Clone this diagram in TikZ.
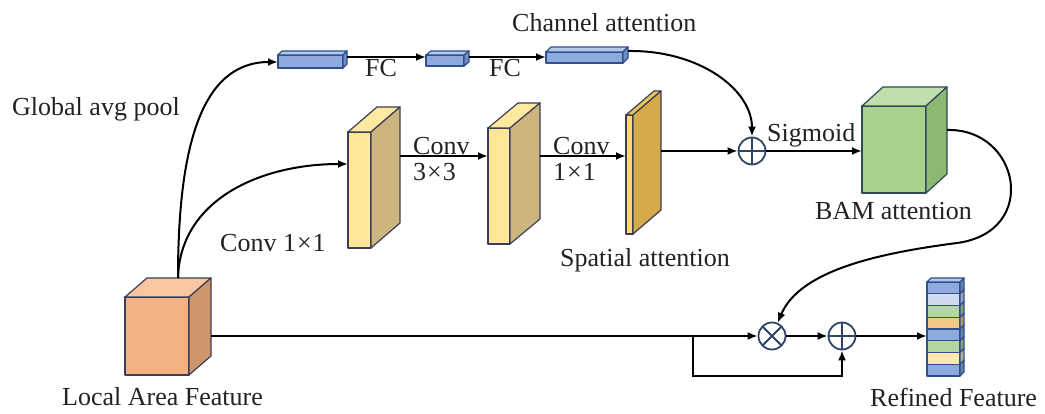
\documentclass[tikz,border=0pt]{standalone}
\usepackage{fontspec}
\setmainfont{Liberation Serif}
\usetikzlibrary{arrows.meta,calc}
\definecolor{lfF}{HTML}{F4B183}\definecolor{lfS}{HTML}{CF956E}\definecolor{lfT}{HTML}{F8C7A2}\definecolor{lfE}{HTML}{3A3F55}
\definecolor{bmF}{HTML}{A9D18E}\definecolor{bmS}{HTML}{8DB873}\definecolor{bmT}{HTML}{C2DEAC}\definecolor{bmE}{HTML}{2F4A55}
\definecolor{cvF}{HTML}{FFE699}\definecolor{cvS}{HTML}{CDB57F}\definecolor{cvT}{HTML}{FFE8A0}\definecolor{cvE}{HTML}{3A3F55}
\definecolor{caF}{HTML}{FFD966}\definecolor{caS}{HTML}{D4AA4A}\definecolor{caT}{HTML}{EBC75A}\definecolor{caE}{HTML}{3A3F55}
\definecolor{brF}{HTML}{8FAADC}\definecolor{brS}{HTML}{6E8CC6}\definecolor{brT}{HTML}{B4C7E7}\definecolor{brE}{HTML}{2F4F8F}
\definecolor{sA}{HTML}{8FAADC}\definecolor{sB}{HTML}{D0DAF0}\definecolor{sC}{HTML}{B5D6A0}
\definecolor{sD}{HTML}{F2C886}\definecolor{sE}{HTML}{FFE8B0}
\definecolor{ocol}{HTML}{2E4565}
\definecolor{txt}{HTML}{222222}
\newcommand\cubeblk[5]{%
  \coordinate (#1-tl) at (#2);
  \coordinate (#1-br) at (#3);
  \coordinate (#1-tr) at (#1-br |- #1-tl);
  \filldraw[face, draw=#5E, fill=#5F] (#1-tl) rectangle (#1-br);
  \filldraw[face, draw=#5E, fill=#5T] (#1-tl) -- ++(#4) -- ($(#1-tr)+(#4)$) -- (#1-tr) -- cycle;
  \filldraw[face, draw=#5E, fill=#5S] (#1-tr) -- ($(#1-tr)+(#4)$) -- ($(#1-br)+(#4)$) -- (#1-br) -- cycle;
}
\begin{document}
\begin{tikzpicture}[x=1pt,y=-1pt,
  lbl/.style={font=\fontsize{26}{26}\selectfont, inner sep=0pt, text=txt},
  arr/.style={line width=2pt, -{Latex[length=10pt,width=8pt]}},
  opnode/.style={circle, draw=ocol, line width=1.8pt, minimum size=27pt, inner sep=0pt, fill=white},
  oplus/.style={opnode, path picture={\draw[ocol,line width=1.8pt] (path picture bounding box.north)--(path picture bounding box.south) (path picture bounding box.west)--(path picture bounding box.east);}},
  otimes/.style={opnode, path picture={\draw[ocol,line width=1.8pt] (path picture bounding box.north west)--(path picture bounding box.south east) (path picture bounding box.north east)--(path picture bounding box.south west);}},
  face/.style={line width=1.2pt, line join=round}]
\fill[white] (0,0) rectangle (1045,414);
\useasboundingbox (0,0) rectangle (1045,414);

% blocks
\cubeblk{lf}{125,297}{189,375}{22,-19}{lf}
\cubeblk{bam}{862,106}{926,193}{21,-19}{bm}
\cubeblk{c1}{348,132}{371,248}{29,-25}{cv}
\cubeblk{c2}{488,128}{510,244}{30,-25}{cv}
\cubeblk{c3}{626,115}{633,234}{28,-24}{ca}
\cubeblk{b1}{278,55}{343,68}{4,-4}{br}
\cubeblk{b2}{426,55}{464,66}{5,-4}{br}
\cubeblk{b3}{546,52}{623,63}{5,-5}{br}

% refined feature stack
\foreach \c [count=\i from 0] in {sA,sB,sC,sD,sA,sC,sE,sA} {
  \pgfmathsetmacro\ya{282+\i*11.75}
  \filldraw[face, draw=brE, fill=\c] (927,\ya) rectangle (960,\ya+11.75);
  \filldraw[face, draw=brE, fill=\c!75!black] (960,\ya) -- ++(4,-4) -- ++(0,11.75) -- ++(-4,4) -- cycle;
}
\filldraw[face, draw=brE, fill=brT] (927,282) -- (931,278) -- (964,278) -- (960,282) -- cycle;

% operators
\node[oplus] (sg) at (752,151) {};
\node[otimes] (ot) at (772,336) {};
\node[oplus] (ad) at (842,336) {};

% connection points
\coordinate (lf-top) at (178,278);
\coordinate (lf-out) at (211,336);
\coordinate (b1-in) at (278,62);
\coordinate (b1-out) at (347,57);
\coordinate (b2-in) at (426,57);
\coordinate (b2-out) at (469,57);
\coordinate (b3-in) at (546,57);
\coordinate (b3-out) at (628,51);
\coordinate (c1-in) at (348,164);
\coordinate (c1-out) at (400,156);
\coordinate (c2-in) at (488,156);
\coordinate (c2-out) at (540,156);
\coordinate (c3-in) at (626,156);
\coordinate (c3-out) at (661,151);
\coordinate (bam-in) at (862,151);
\coordinate (bam-out) at (947,130);
\coordinate (split) at (693,336);
\coordinate (loop) at (693,376);
\coordinate (rf-in) at (927,336);

% connectors
\draw[arr] (lf-top) .. controls (178,150) and (200,62) .. (b1-in);
\draw[arr] (lf-top) .. controls (180,200) and (260,164) .. (c1-in);
\draw[arr] (b1-out) -- (b2-in);
\draw[arr] (b2-out) -- (b3-in);
\draw[arr] (b3-out) .. controls (700,50) and (752,90) .. (sg);
\draw[arr] (c1-out) -- (c2-in);
\draw[arr] (c2-out) -- (c3-in);
\draw[arr] (c3-out) -- (sg);
\draw[arr] (sg) -- (bam-in);
\draw[arr] (bam-out) .. controls (1020,128) and (1040,232) .. (957,243)
  .. controls (880,253) and (800,270) .. (ot);
\draw[arr] (lf-out) -- (ot);
\draw[arr] (split) -- (loop) -| (ad);
\draw[arr] (ot) -- (ad);
\draw[arr] (ad) -- (rf-in);

% labels
\node[lbl, anchor=base west] (t-gap) at (12,116) {Global avg pool};
\node[lbl, anchor=base west] (t-c1) at (220,252) {Conv 1\kern1pt×\kern1pt1};
\node[lbl, anchor=base west] (t-lf) at (62,405) {Local Area Feature};
\node[lbl, anchor=base west] (t-ca) at (512,32) {Channel attention};
\node[lbl, anchor=base] (t-fc1) at (381,77) {FC};
\node[lbl, anchor=base] (t-fc2) at (505,77) {FC};
\node[lbl, anchor=base west, align=left] (t-c3) at (413,181) {Conv\\3\kern1pt×\kern1pt3};
\node[lbl, anchor=base west, align=left] (t-c11) at (553,181) {Conv\\1\kern1pt×\kern1pt1};
\node[lbl, anchor=base west] (t-sa) at (560,267) {Spatial attention};
\node[lbl, anchor=base west] (t-sg) at (767,142) {Sigmoid};
\node[lbl, anchor=base west] (t-bam) at (815,220) {BAM attention};
\node[lbl, anchor=base west] (t-rf) at (870,406) {Refined Feature};
\end{tikzpicture}
\end{document}
